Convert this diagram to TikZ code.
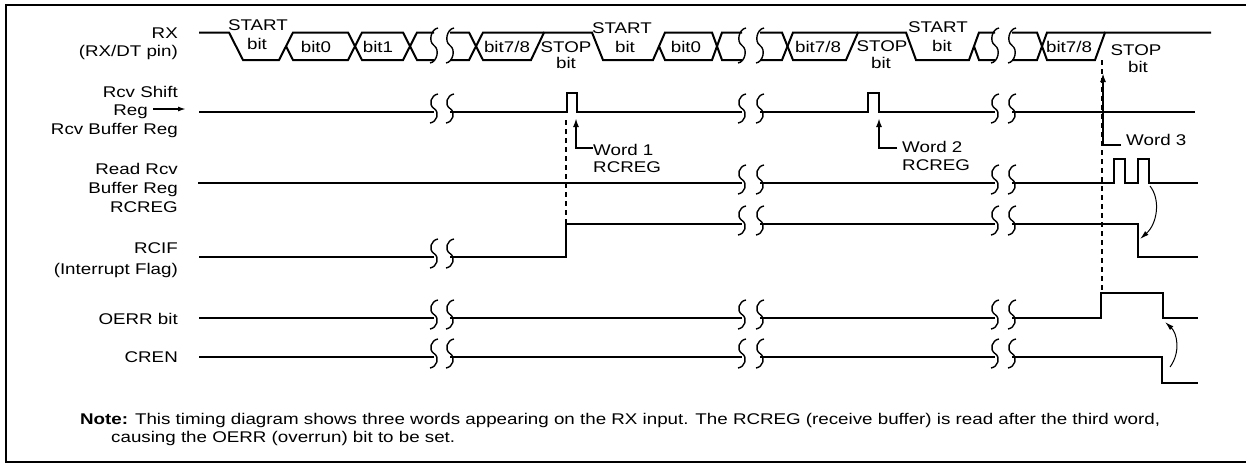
\documentclass[tikz,border=0pt]{standalone}
\usepackage{fontspec}
\setmainfont{Liberation Sans}[FakeStretch=1.21]
\usetikzlibrary{arrows.meta}
\newcommand{\brkS}[3]{%
  \draw[brkline] ({#1+4},#2) .. controls ({#1-3},{#2+1}) and ({#1-6},{0.5*(#2+#3)-4}) .. (#1,{0.5*(#2+#3)})
     .. controls ({#1+6},{0.5*(#2+#3)+4}) and ({#1+3},{#3-1}) .. ({#1-4},#3);}
\newcommand{\brkR}[2]{\brkS{#1}{#2-18}{#2+11}}
\begin{document}
\begin{tikzpicture}[x=1pt,y=-1pt,
  font=\fontsize{15.5pt}{18pt}\selectfont,
  sig/.style={line width=2pt, line join=miter, line cap=butt},
  brkline/.style={line width=1.4pt},
  dashln/.style={line width=2pt, dash pattern=on 5pt off 4pt},
  wordarr/.style={line width=2pt, -{Latex[length=9pt,width=6pt]}},
  thinarr/.style={line width=1pt, -{Latex[length=9pt,width=5pt]}},
  lbl/.style={inner sep=0pt, anchor=base east},
  txt/.style={inner sep=0pt, anchor=base},
  wtxt/.style={inner sep=0pt, anchor=base west}]
\useasboundingbox (0,0) rectangle (1246,467);
% frame
\draw[line width=2pt] (1250,5) -- (6,5) -- (6,462) -- (1250,462);

% ---------- left labels ----------
\node[lbl] (lrx) at (178,38) {RX};
\node[lbl] (lrxpin) at (178,56) {(RX/DT pin)};
\node[lbl] (lshift) at (178,97) {Rcv Shift};
\node[lbl] (lreg) at (148,115) {Reg};
\node[lbl] (lbuf) at (178,134) {Rcv Buffer Reg};
\coordinate (regA) at (153,109);
\coordinate (regB) at (186,109);
\draw[line width=1.5pt, -{Latex[length=8pt,width=5pt]}] (regA) -- (regB);
\node[lbl] (lread) at (178,174) {Read Rcv};
\node[lbl] (lread2) at (178,193) {Buffer Reg};
\node[lbl] (lread3) at (178,212) {RCREG};
\node[lbl] (lrcif) at (178,253) {RCIF};
\node[lbl] (lrcif2) at (178,274) {(Interrupt Flag)};
\node[lbl] (loerr) at (178,324) {OERR bit};
\node[lbl] (lcren) at (178,362) {CREN};

% ---------- RX waveform ----------
\def\H{32.5}\def\L{60}\def\M{46.25}
\draw[sig] (199,\H) -- (229,\H) -- (243,\L) -- (279,\L) -- (293,\H) -- (348,\H) -- (362,\L) -- (403,\L) -- (417,\H) -- (434,\H);
\draw[sig] (286,\M) -- (293,\L) -- (348,\L) -- (362,\H) -- (403,\H) -- (417,\L) -- (434,\L);
\brkS{434}{28}{63}\brkS{450}{28}{63}
\draw[sig] (450,\H) -- (469,\H) -- (483,\L) -- (531,\L) -- (544,\H) -- (592,\H) -- (603,\L) -- (653,\L) -- (665,\H) -- (712,\H) -- (722,\L) -- (742,\L);
\draw[sig] (450,\L) -- (469,\L) -- (483,\H) -- (544,\H);
\draw[sig] (659,\M) -- (665,\L) -- (712,\L) -- (722,\H) -- (742,\H);
\brkS{742}{28}{63}\brkS{760}{28}{63}
\draw[sig] (760,\H) -- (782,\H) -- (793,\L) -- (846,\L) -- (858,\H) -- (906,\H) -- (916,\L) -- (969,\L) -- (979,\H) -- (995,\H);
\draw[sig] (760,\L) -- (782,\L) -- (793,\H) -- (858,\H);
\draw[sig] (974,\M) -- (979,\L) -- (995,\L);
\brkS{995}{28}{63}\brkS{1012}{28}{63}
\draw[sig] (1012,\H) -- (1037,\H) -- (1047,\L) -- (1095,\L) -- (1105,\H) -- (1211,\H);
\draw[sig] (1012,\L) -- (1037,\L) -- (1047,\H) -- (1105,\H);

% RX texts
\node[txt] (st1) at (258,30) {START};
\node[txt] (st1b) at (257,49) {bit};
\node[txt] (b0a) at (316,52) {bit0};
\node[txt] (b1a) at (378,52) {bit1};
\node[txt] (b7a) at (507,52) {bit7/8};
\node[txt] (sp1) at (566,52) {STOP};
\node[txt] (sp1b) at (566,68) {bit};
\node[txt] (st2) at (622,33) {START};
\node[txt] (st2b) at (625,52) {bit};
\node[txt] (b0b) at (686,52) {bit0};
\node[txt] (b7b) at (818,52) {bit7/8};
\node[txt] (sp2) at (882,51) {STOP};
\node[txt] (sp2b) at (881,68) {bit};
\node[txt] (st3) at (938,32) {START};
\node[txt] (st3b) at (942,51) {bit};
\node[txt] (b7c) at (1069,52) {bit7/8};
\node[txt] (sp3) at (1136,55) {STOP};
\node[txt] (sp3b) at (1138,72) {bit};

% ---------- Rcv Shift Reg -> Rcv Buffer Reg ----------
\draw[sig] (199,112) -- (434,112);
\draw[sig] (450,112) -- (567,112) -- (567,93) -- (577,93) -- (577,112) -- (742,112);
\draw[sig] (760,112) -- (868,112) -- (868,93) -- (879,93) -- (879,112) -- (995,112);
\draw[sig] (1012,112) -- (1195,112);
\brkR{434}{112}\brkR{450}{112}\brkR{742}{112}\brkR{760}{112}\brkR{995}{112}\brkR{1012}{112}

% ---------- Read Rcv Buffer Reg ----------
\draw[sig] (198,183) -- (742,183);
\draw[sig] (760,183) -- (995,183);
\draw[sig] (1012,183) -- (1114,183) -- (1114,159) -- (1125,159) -- (1125,183) -- (1138,183) -- (1138,159) -- (1149,159) -- (1149,183) -- (1198,183);
\brkR{742}{183}\brkR{760}{183}\brkR{995}{183}\brkR{1012}{183}

% ---------- RCIF ----------
\draw[sig] (199,257) -- (434,257);
\draw[sig] (450,257) -- (566,257) -- (566,224) -- (742,224);
\draw[sig] (760,224) -- (995,224);
\draw[sig] (1012,224) -- (1138,224) -- (1138,257) -- (1198,257);
\brkR{434}{257}\brkR{450}{257}\brkR{742}{224}\brkR{760}{224}\brkR{995}{224}\brkR{1012}{224}

% ---------- OERR ----------
\draw[sig] (199,318) -- (434,318);
\draw[sig] (450,318) -- (742,318);
\draw[sig] (760,318) -- (995,318);
\draw[sig] (1012,318) -- (1101,318) -- (1101,293) -- (1163,293) -- (1163,318) -- (1198,318);
\brkR{434}{318}\brkR{450}{318}\brkR{742}{318}\brkR{760}{318}\brkR{995}{318}\brkR{1012}{318}

% ---------- CREN ----------
\draw[sig] (199,357) -- (434,357);
\draw[sig] (450,357) -- (742,357);
\draw[sig] (760,357) -- (995,357);
\draw[sig] (1012,357) -- (1162,357) -- (1162,383) -- (1198,383);
\brkR{434}{357}\brkR{450}{357}\brkR{742}{357}\brkR{760}{357}\brkR{995}{357}\brkR{1012}{357}

% ---------- dashed markers ----------
\coordinate (d1a) at (566,120); \coordinate (d1b) at (566,224);
\draw[dashln] (d1a) -- (d1b);
\coordinate (d3a) at (1102,60); \coordinate (d3b) at (1102,293);
\draw[dashln] (d3a) -- (d3b);

% ---------- Word labels ----------
\node[wtxt] (w1) at (593,155) {Word 1};
\node[wtxt] (w1r) at (593,172) {RCREG};
\coordinate (w1e) at (593,148);
\coordinate (w1t) at (576,118);
\draw[wordarr] (w1e) -| (w1t);
\node[wtxt] (w2) at (902,152) {Word 2};
\node[wtxt] (w2r) at (902,170) {RCREG};
\coordinate (w2e) at (897,148);
\coordinate (w2t) at (879,118);
\draw[wordarr] (w2e) -| (w2t);
\node[wtxt] (w3) at (1126,145) {Word 3};
\coordinate (w3e) at (1121,145);
\coordinate (w3t) at (1103,73);
\draw[wordarr] (w3e) -| (w3t);

% ---------- curved arrows ----------
\coordinate (ca1) at (1150,186); \coordinate (ca1t) at (1140,239);
\draw[thinarr] (ca1) .. controls (1161,200) and (1157,224) .. (ca1t);
\coordinate (ca2) at (1170,367); \coordinate (ca2t) at (1165,322);
\draw[thinarr] (ca2) .. controls (1181,352) and (1177,333) .. (ca2t);

% ---------- note ----------
\node[wtxt] (note1) at (80,424) {\textbf{Note:} This timing diagram shows three words appearing on the RX input. The RCREG (receive buffer) is read after the third word,};
\node[wtxt] (note2) at (111,442) {causing the OERR (overrun) bit to be set.};
\end{tikzpicture}
\end{document}
